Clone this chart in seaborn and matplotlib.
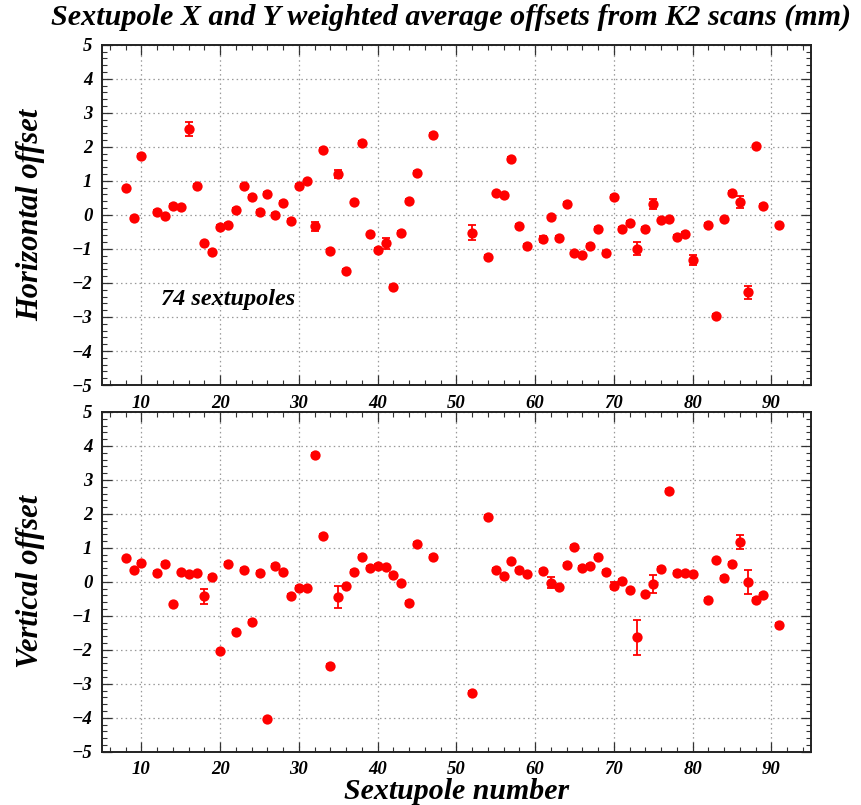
import numpy as np
import pandas as pd
import matplotlib
matplotlib.use("Agg")
import matplotlib.pyplot as plt
from matplotlib.ticker import MultipleLocator
import seaborn as sns

sextupoles = [8, 9, 10, 12, 13, 14, 15, 16, 17, 18, 19, 20, 21, 22, 23, 24, 25, 26, 27, 28,
              29, 30, 31, 32, 33, 34, 35, 36, 37, 38, 39, 40, 41, 42, 43, 44, 45, 47,
              52, 54, 55, 56, 57, 58, 59, 61, 62, 63, 64, 65, 66, 67, 68, 69, 70, 71, 72,
              73, 74, 75, 76, 77, 78, 79, 80, 82, 83, 84, 85, 86, 87, 88, 89, 91]

horizontal = [0.78, -0.10, 1.74, 0.09, -0.04, 0.26, 0.22, 2.52, 0.85, -0.84, -1.09, -0.36, -0.30,
              0.15, 0.85, 0.53, 0.08, 0.62, 0.00, 0.35, -0.17, 0.86, 0.99, -0.33, 1.92, -1.06,
              1.20, -1.65, 0.37, 2.12, -0.57, -1.02, -0.84, -2.11, -0.53, 0.41, 1.24, 2.36,
              -0.52, -1.24, 0.63, 0.58, 1.65, -0.33, -0.91, -0.71, -0.07, -0.67, 0.32, -1.13,
              -1.17, -0.91, -0.42, -1.12, 0.53, -0.41, -0.24, -0.99, -0.42, 0.33, -0.16, -0.13,
              -0.65, -0.56, -1.33, -0.30, -2.97, -0.13, 0.65, 0.38, -2.28, 2.01, 0.26, -0.31]

horizontal_err = {16: 0.20, 32: 0.13, 35: 0.12, 41: 0.15, 52: 0.21, 61: 0.10, 73: 0.18,
                  75: 0.15, 80: 0.15, 86: 0.18, 87: 0.20}

vertical = [0.69, 0.34, 0.56, 0.27, 0.52, -0.66, 0.28, 0.23, 0.25, -0.42, 0.14, -2.05, 0.52,
            -1.47, 0.36, -1.18, 0.26, -4.05, 0.48, 0.29, -0.41, -0.17, -0.18, 3.73, 1.35, -2.47,
            -0.45, -0.13, 0.29, 0.73, 0.41, 0.47, 0.44, 0.21, -0.04, -0.62, 1.12, 0.74,
            -3.26, 1.91, 0.35, 0.18, 0.60, 0.36, 0.23, 0.32, -0.02, -0.15, 0.50, 1.04,
            0.41, 0.48, 0.73, 0.29, -0.11, 0.02, -0.25, -1.63, -0.37, -0.06, 0.38, 2.67,
            0.27, 0.25, 0.22, -0.52, 0.63, 0.12, 0.53, 1.18, 0.00, -0.54, -0.38, -1.27]

vertical_err = {18: 0.22, 35: 0.32, 62: 0.15, 70: 0.10, 73: 0.52, 75: 0.27, 86: 0.20, 87: 0.35}

default_err = 0.05

title = "Sextupole X and Y weighted average offsets from K2 scans (mm)"
xlabel = "Sextupole number"
ylabels = ["Horizontal offset", "Vertical offset"]
annotation = "74 sextupoles"

sns.set_style("white")
plt.rcParams["font.family"] = ["Liberation Serif", "DejaVu Serif"]
plt.rcParams["text.color"] = "black"
plt.rcParams["axes.labelcolor"] = "black"
plt.rcParams["xtick.color"] = "black"
plt.rcParams["ytick.color"] = "black"

serif_bi = dict(family=["Liberation Serif", "DejaVu Serif"], weight="bold", style="italic",
                color="black")

df = pd.DataFrame({
    "sextupole": sextupoles,
    "horizontal": horizontal,
    "horizontal_err": [horizontal_err.get(s, default_err) for s in sextupoles],
    "vertical": vertical,
    "vertical_err": [vertical_err.get(s, default_err) for s in sextupoles],
})

fig = plt.figure(figsize=(8.61, 8.05), dpi=100)
ax_top = fig.add_axes([0.1185, 0.5217, 0.8231, 0.4227])
ax_bot = fig.add_axes([0.1185, 0.0662, 0.8231, 0.4220])

red = "#ff0000"

for ax, col, lab in [(ax_top, "horizontal", ylabels[0]), (ax_bot, "vertical", ylabels[1])]:
    ax.errorbar(df["sextupole"], df[col], yerr=df[col + "_err"], fmt="none",
                ecolor=red, elinewidth=1.3, capsize=3.2, capthick=1.3, zorder=3)
    sns.scatterplot(data=df, x="sextupole", y=col, ax=ax, color=red, s=55,
                    edgecolor=red, linewidth=0, zorder=4, legend=False)
    ax.set_xlim(5, 95)
    ax.set_ylim(-5, 5)
    ax.xaxis.set_major_locator(MultipleLocator(10))
    ax.xaxis.set_minor_locator(MultipleLocator(2))
    ax.yaxis.set_major_locator(MultipleLocator(1))
    ax.yaxis.set_minor_locator(MultipleLocator(0.2))
    ax.grid(True, which="major", color="#999999", linestyle=(0, (1.2, 2.5)), linewidth=0.9)
    ax.tick_params(which="both", direction="in", top=True, right=True, bottom=True, left=True,
                   color="#333333")
    ax.tick_params(which="major", length=7, width=0.9, pad=7, labelsize=13.5)
    ax.tick_params(which="minor", length=3.5, width=0.8)
    for spine in ax.spines.values():
        spine.set_linewidth(1.4)
        spine.set_color("#222222")
    for t in ax.get_xticklabels() + ax.get_yticklabels():
        t.set_fontfamily(["Liberation Serif", "DejaVu Serif"])
        t.set_fontweight("bold")
        t.set_fontstyle("italic")
        t.set_color("black")
    ax.set_xlabel("")
    ax.set_ylabel(lab, fontsize=22, labelpad=19, **serif_bi)

ax_top.text(12.5, -2.5, annotation, fontsize=17.5, ha="left", va="center", **serif_bi)
ax_bot.set_xlabel(xlabel, fontsize=21.5, labelpad=0, **serif_bi)
fig.text(0.524, 0.978, title, fontsize=21.7, ha="center", va="center", **serif_bi)

fig.savefig("out.png", dpi=100, facecolor="white")
